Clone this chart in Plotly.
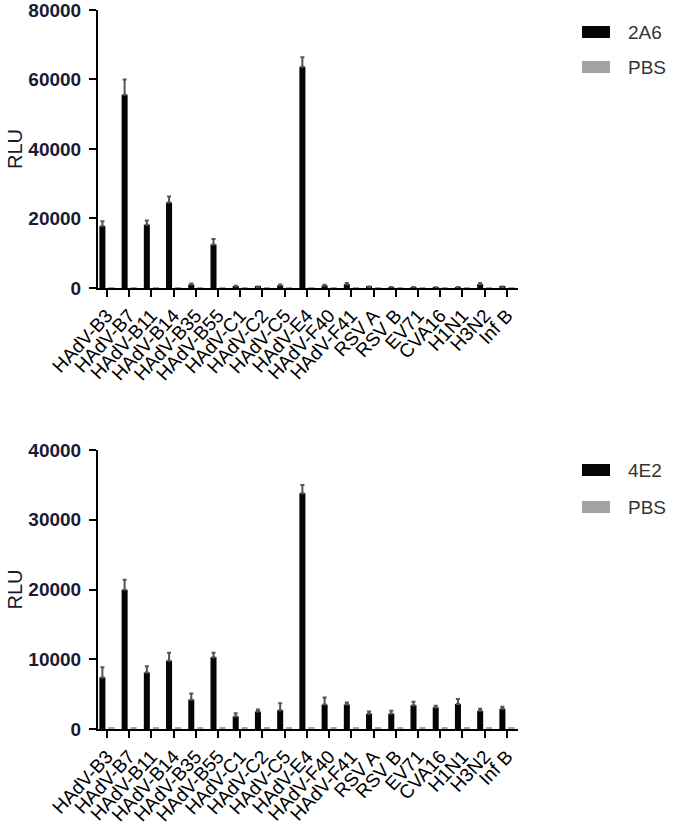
import plotly.graph_objects as go

CATEGORIES = ["HAdV-B3", "HAdV-B7", "HAdV-B11", "HAdV-B14", "HAdV-B35", "HAdV-B55",
              "HAdV-C1", "HAdV-C2", "HAdV-C5", "HAdV-E4", "HAdV-F40", "HAdV-F41",
              "RSV A", "RSV B", "EV71", "CVA16", "H1N1", "H3N2", "Inf B"]

# panel 1: 2A6 vs PBS
AB1_NAME = "2A6"
AB1_VALUES = [17800, 55600, 18200, 24600, 1000, 12500, 500, 300, 800, 63700,
              700, 1100, 300, 200, 200, 150, 200, 1100, 300]
AB1_ERR = [1400, 4400, 1200, 1700, 300, 1600, 150, 100, 200, 2700,
           200, 300, 100, 80, 80, 60, 80, 300, 100]
PBS1_VALUES = [150, 120, 130, 120, 100, 130, 110, 100, 120, 130,
               110, 120, 100, 100, 110, 100, 110, 120, 100]

# panel 2: 4E2 vs PBS
AB2_NAME = "4E2"
AB2_VALUES = [7400, 19950, 8100, 9800, 4200, 10300, 1800, 2500, 2700, 33800,
              3500, 3500, 2200, 2200, 3400, 3100, 3600, 2600, 2900]
AB2_ERR = [1450, 1450, 900, 1150, 900, 650, 450, 300, 1000, 1200,
           1000, 300, 300, 400, 500, 250, 700, 300, 300]
PBS2_VALUES = [200, 180, 190, 170, 160, 180, 170, 200, 220, 200,
               170, 180, 160, 170, 180, 170, 180, 170, 180]

PBS_NAME = "PBS"
BLACK = "#050505"
GREY = "#a3a3a5"
NAVY = "#1a1a33"
FONT = "Liberation Sans, Arial"

fig = go.Figure()


def add_panel(ab_name, ab_vals, ab_err, pbs_vals, xa, ya):
    fig.add_trace(go.Bar(
        x=CATEGORIES, y=ab_vals, name=ab_name, marker_color=BLACK,
        marker_line_width=0, xaxis=xa, yaxis=ya, showlegend=False,
        error_y=dict(type="data", symmetric=False, array=ab_err,
                     arrayminus=[0] * len(ab_err), color="#555555",
                     thickness=2, width=2),
    ))
    fig.add_trace(go.Bar(
        x=CATEGORIES, y=pbs_vals, name=PBS_NAME, marker_color=GREY,
        marker_line_width=0, xaxis=xa, yaxis=ya, showlegend=False,
    ))


add_panel(AB1_NAME, AB1_VALUES, AB1_ERR, PBS1_VALUES, "x", "y")
add_panel(AB2_NAME, AB2_VALUES, AB2_ERR, PBS2_VALUES, "x2", "y2")

xcommon = dict(
    range=[-0.4, 18.5], showline=True, linecolor="black", linewidth=2,
    ticks="outside", ticklen=7, tickwidth=2, tickcolor="black",
    tickmode="array", tickvals=CATEGORIES, ticktext=CATEGORIES,
    tickangle=-47, tickfont=dict(family=FONT, size=19, color="black"),
    showgrid=False, zeroline=False, automargin=False, ticklabeloverflow="allow",
)
ycommon = dict(
    showline=True, linecolor="black", linewidth=2,
    ticks="outside", ticklen=7, tickwidth=2, tickcolor="black",
    tickformat="d", ticklabelstandoff=4, ticklabeloverflow="allow",
    tickfont=dict(family=FONT, size=19, color=NAVY, weight="bold"),
    showgrid=False, zeroline=False, automargin=False,
    title=dict(text="RLU", font=dict(family=FONT, size=20, color=NAVY), standoff=0),
)

# plot areas: x 98..518 px, top panel y 10..288, bottom panel y 450..729
fig.update_layout(
    width=674, height=825,
    paper_bgcolor="white", plot_bgcolor="white",
    barmode="group", bargap=0.19, bargroupgap=0.33,
    margin=dict(l=98, r=674 - 98 - 420, t=10, b=96),
    xaxis=dict(xcommon, anchor="y", domain=[0, 1]),
    yaxis=dict(ycommon, anchor="x", domain=[0.6134, 1.0], range=[0, 80000], dtick=20000),
    xaxis2=dict(xcommon, anchor="y2", domain=[0, 1]),
    yaxis2=dict(ycommon, anchor="x2", domain=[0, 0.388], range=[0, 40000], dtick=10000),
)

# legend swatches, GraphPad style (positions in reference pixels)
legend_items = [(AB1_NAME, BLACK, 32), (PBS_NAME, GREY, 67),
                (AB2_NAME, BLACK, 470), (PBS_NAME, GREY, 507)]
for label, color, ypx in legend_items:
    fig.add_shape(type="rect", xref="paper", yref="paper",
                  x0=(582 - 98) / 420, x1=(610 - 98) / 420,
                  y0=(729 - ypx - 6) / 719, y1=(729 - ypx + 6) / 719,
                  fillcolor=color, line_width=0)
    fig.add_annotation(xref="paper", yref="paper", x=(626 - 98) / 420,
                       y=(729 - ypx) / 719, xanchor="left", yanchor="middle",
                       text=label, showarrow=False,
                       font=dict(family=FONT, size=19, color="#333333"))

# drop the browser's default 8px body margin so the figure sits at 0,0
fig.write_html("out.html", config={"displayModeBar": False},
               post_script="document.body.style.margin = '0';")
